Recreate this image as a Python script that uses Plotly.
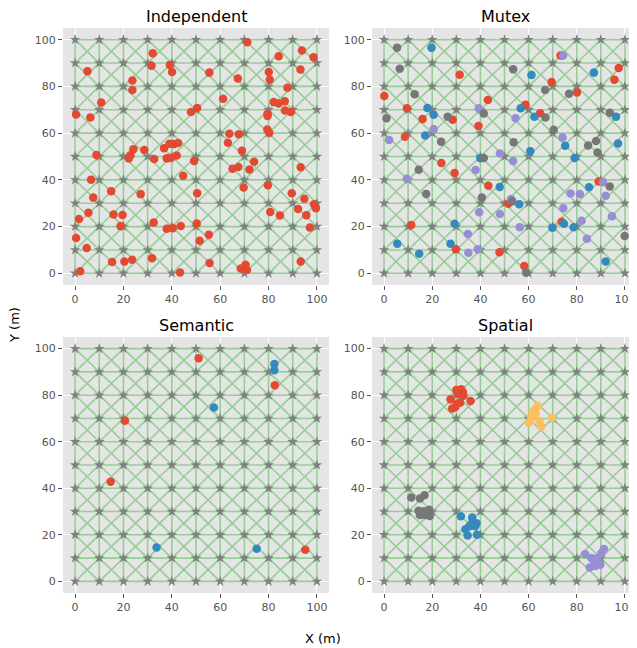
import plotly.graph_objects as go

# ---------------- data ----------------
grid_nodes = [0, 10, 20, 30, 40, 50, 60, 70, 80, 90, 100]

indep_x = [0.4, 5.1, 6.3, 10.8, 8.8, 6.6, 7.5, 1.6, 5.5, 0.4, 4.8, 2.1, 14.9, 15.9, 19.6, 18.8,
           15.3, 20.4, 23.6, 23.7, 23.7, 32.1, 31.6, 22.2, 22.9, 24.1, 28.6, 32.7, 27.1, 32.5,
           31.8, 39.2, 40.1, 36.8, 37.9, 39.0, 40.8, 39.6, 42.0, 42.6, 44.7, 47.9, 50.5, 49.2,
           50.5, 50.3, 51.5, 55.3, 55.6, 37.9, 40.4, 43.7, 43.4, 55.5, 61.2, 67.3, 71.2, 63.8,
           63.2, 67.7, 69.0, 65.1, 67.5, 72.1, 74.0, 69.7, 68.5, 70.5, 71.1, 80.1, 80.5, 84.2,
           79.6, 79.6, 79.5, 80.3, 82.1, 84.1, 86.7, 87.8, 86.8, 89.2, 93.8, 93.2, 98.6, 79.7,
           80.7, 84.7, 89.6, 93.3, 92.2, 94.8, 95.6, 97.1, 98.8, 99.6, 93.3]
indep_y = [68.0, 86.5, 66.7, 73.1, 50.6, 40.1, 32.4, 23.2, 25.9, 15.1, 10.8, 0.9, 35.1, 25.2,
           25.0, 20.2, 4.8, 5.1, 5.8, 82.5, 78.5, 94.2, 88.8, 49.2, 50.4, 53.1, 52.8, 48.9,
           33.9, 21.8, 6.5, 89.2, 86.2, 53.5, 49.2, 55.5, 55.3, 49.4, 50.4, 55.8, 41.8, 69.0,
           70.8, 48.1, 34.3, 21.3, 13.9, 16.5, 4.4, 19.1, 19.3, 20.3, 0.4, 85.9, 74.7, 83.4,
           98.9, 59.7, 55.9, 59.5, 52.5, 44.8, 45.5, 44.4, 47.8, 36.7, 2.1, 3.7, 1.4, 86.2,
           82.9, 92.9, 68.3, 67.3, 61.6, 60.2, 73.3, 72.7, 73.7, 79.4, 69.7, 69.1, 95.4, 87.2,
           92.5, 37.7, 26.2, 24.8, 34.3, 45.4, 27.5, 31.9, 24.9, 19.6, 29.6, 27.9, 5.1]

mutex_red_x = [0.1, 9.5, 8.7, 16.0, 28.5, 31.4, 23.8, 29.3, 11.3, 29.8, 39.2, 43.1, 43.3,
               47.9, 51.6, 58.7, 58.2, 64.8, 69.6, 73.3, 80.1, 73.7, 89.1, 95.6, 97.4]
mutex_red_y = [75.9, 70.7, 58.5, 66.1, 65.7, 85.0, 47.2, 42.9, 20.7, 10.3, 63.1, 74.2, 37.5,
               9.0, 29.8, 72.2, 3.1, 68.5, 81.9, 93.2, 77.4, 22.1, 39.3, 82.9, 87.9]
mutex_blue_x = [19.7, 18.0, 20.6, 17.1, 5.5, 14.6, 29.3, 27.6, 40.0, 48.0, 56.7, 61.2, 62.4,
                60.7, 56.1, 69.9, 74.7, 75.2, 79.1, 78.7, 85.1, 87.1, 96.3, 97.1, 92.0]
mutex_blue_y = [96.6, 70.8, 67.9, 59.0, 12.7, 8.4, 21.2, 12.7, 49.3, 36.9, 70.7, 84.9, 67.0,
                52.3, 29.6, 19.5, 21.2, 54.6, 49.4, 19.7, 36.8, 85.9, 67.0, 55.6, 5.1]
mutex_purple_x = [2.1, 9.5, 20.6, 39.3, 38.0, 39.5, 34.8, 35.0, 38.9, 48.1, 53.6, 54.6, 48.1,
                  52.7, 56.3, 74.3, 74.1, 74.4, 77.4, 81.3, 82.0, 84.2, 90.9, 92.0, 94.6]
mutex_purple_y = [57.1, 40.5, 61.8, 70.7, 44.2, 26.1, 16.8, 8.8, 10.3, 51.3, 48.1, 66.4, 25.4,
                  31.8, 19.7, 93.2, 58.1, 27.9, 34.2, 33.9, 22.5, 14.8, 39.0, 33.2, 24.4]
mutex_gray_x = [5.4, 6.5, 12.7, 1.0, 14.4, 17.5, 23.7, 26.4, 41.4, 41.4, 40.6, 53.6, 53.8,
                53.2, 59.0, 66.9, 67.0, 70.4, 76.8, 84.7, 88.0, 88.6, 93.7, 93.7, 99.9]
mutex_gray_y = [96.6, 87.6, 76.6, 66.4, 44.3, 34.0, 56.3, 67.0, 68.4, 49.4, 32.5, 87.3, 56.1,
                30.8, 0.3, 78.5, 66.7, 61.4, 76.9, 54.7, 56.6, 51.7, 37.2, 68.7, 16.0]

sem_red_x = [51.1, 82.6, 20.6, 14.7, 95.2]
sem_red_y = [95.9, 84.3, 69.0, 42.8, 13.6]
sem_blue_x = [82.4, 82.4, 57.4, 33.7, 75.1]
sem_blue_y = [93.4, 90.7, 74.7, 14.6, 14.0]

sp_red_x = [27.6, 30.0, 32.0, 32.7, 33.0, 31.6, 30.4, 29.6, 28.3, 35.9, 30.8]
sp_red_y = [78.2, 82.2, 82.5, 81.5, 79.8, 76.8, 76.3, 74.9, 74.3, 77.5, 80.5]
sp_yellow_x = [63.7, 62.7, 61.6, 61.1, 60.1, 64.5, 65.2, 69.7, 62.9]
sp_yellow_y = [75.5, 73.9, 72.6, 70.3, 68.2, 68.9, 66.5, 70.3, 72.2]
sp_gray_x = [11.3, 14.9, 16.8, 14.3, 14.9, 16.9, 18.7, 19.0, 16.5]
sp_gray_y = [36.0, 35.6, 37.0, 30.3, 28.5, 28.5, 30.8, 28.1, 30.1]
sp_blue_x = [31.9, 36.6, 36.5, 38.4, 35.4, 33.8, 34.7, 38.6, 37.8]
sp_blue_y = [28.0, 27.4, 25.1, 25.0, 23.7, 22.4, 19.7, 20.0, 23.7]
sp_purple_x = [83.5, 86.0, 91.3, 90.2, 88.6, 87.3, 85.4, 89.8, 87.8]
sp_purple_y = [11.7, 10.0, 13.9, 12.2, 10.0, 7.8, 6.0, 7.1, 6.6]

titles = ["Independent", "Mutex", "Semantic", "Spatial"]
tick_vals = [0, 20, 40, 60, 80, 100]

RED, BLUE, PURPLE, GRAY, YELLOW = "#E24A33", "#348ABD", "#988ED5", "#777777", "#FBC15E"

panels = [
    [(indep_x, indep_y, RED)],
    [(mutex_red_x, mutex_red_y, RED), (mutex_blue_x, mutex_blue_y, BLUE),
     (mutex_purple_x, mutex_purple_y, PURPLE), (mutex_gray_x, mutex_gray_y, GRAY)],
    [(sem_red_x, sem_red_y, RED), (sem_blue_x, sem_blue_y, BLUE)],
    [(sp_red_x, sp_red_y, RED), (sp_blue_x, sp_blue_y, BLUE), (sp_purple_x, sp_purple_y, PURPLE),
     (sp_gray_x, sp_gray_y, GRAY), (sp_yellow_x, sp_yellow_y, YELLOW)],
]

# ---------------- grid segments ----------------
seg_x, seg_y = [], []
n = len(grid_nodes)
for i in range(n):
    seg_x += [grid_nodes[0], grid_nodes[-1], None]
    seg_y += [grid_nodes[i], grid_nodes[i], None]
    seg_x += [grid_nodes[i], grid_nodes[i], None]
    seg_y += [grid_nodes[0], grid_nodes[-1], None]
for i in range(n - 1):
    for j in range(n - 1):
        x0, x1 = grid_nodes[i], grid_nodes[i + 1]
        y0, y1 = grid_nodes[j], grid_nodes[j + 1]
        seg_x += [x0, x1, None, x0, x1, None]
        seg_y += [y0, y1, None, y1, y0, None]
node_x = [gx for gx in grid_nodes for gy in grid_nodes]
node_y = [gy for gx in grid_nodes for gy in grid_nodes]

# ---------------- figure ----------------
# page body has an 8px margin, so lay out on a 629x640 canvas offset by 8px
OFF = 8
W, H = 637 - OFF, 648 - OFF


def px_x(v):
    return (v - OFF) / W


def px_y(v):
    return (H - (v - OFF)) / H


doms_x = [(px_x(63), px_x(329)), (px_x(372), 1.0)]
doms_y = [(px_y(285), px_y(28)), (px_y(593), px_y(337))]
title_y = [17, 325]
title_cx = [px_x(196), px_x(505)]

fig = go.Figure()
layout = dict(width=W, height=H, margin=dict(l=0, r=0, t=0, b=0),
              paper_bgcolor="white", plot_bgcolor="#E5E5E5", showlegend=False,
              font=dict(family="DejaVu Sans", color="#555555"))
annotations = []
for k in range(4):
    r, c = divmod(k, 2)
    ax = "" if k == 0 else str(k + 1)
    xa, ya = "x" + ax, "y" + ax
    fig.add_trace(go.Scatter(x=seg_x, y=seg_y, mode="lines", xaxis=xa, yaxis=ya,
                             line=dict(color="#94CF94", width=1.6), hoverinfo="skip"))
    fig.add_trace(go.Scatter(x=node_x, y=node_y, mode="markers", xaxis=xa, yaxis=ya,
                             marker=dict(symbol="star", size=8, color="#808080", line=dict(width=0))))
    for (px_, py_, col) in panels[k]:
        fig.add_trace(go.Scatter(x=px_, y=py_, mode="markers", xaxis=xa, yaxis=ya,
                                 marker=dict(size=8.5, color=col, line=dict(width=0))))
    axis_common = dict(range=[-5, 105], tickvals=tick_vals, showgrid=True, gridcolor="white",
                       gridwidth=1, zeroline=False, ticks="outside", ticklen=4, tickwidth=1,
                       tickcolor="#555555", tickfont=dict(size=11, color="#555555"),
                       showline=False, fixedrange=True)
    layout["xaxis" + ax] = dict(axis_common, domain=list(doms_x[c]), anchor=ya)
    layout["yaxis" + ax] = dict(axis_common, domain=list(doms_y[r]), anchor=xa)
    annotations.append(dict(text=titles[k], xref="paper", yref="paper",
                            x=title_cx[c], y=px_y(title_y[r]),
                            xanchor="center", yanchor="middle", showarrow=False,
                            font=dict(size=16, color="black", family="DejaVu Sans")))

annotations.append(dict(text="X (m)", xref="paper", yref="paper", x=px_x(323), y=px_y(638),
                        xanchor="center", yanchor="middle", showarrow=False,
                        font=dict(size=13, color="black", family="DejaVu Sans")))
annotations.append(dict(text="Y (m)", xref="paper", yref="paper", x=px_x(14), y=px_y(325),
                        xanchor="center", yanchor="middle", showarrow=False, textangle=-90,
                        font=dict(size=13, color="black", family="DejaVu Sans")))
layout["annotations"] = annotations
fig.update_layout(**layout)
fig.write_html("out.html")
